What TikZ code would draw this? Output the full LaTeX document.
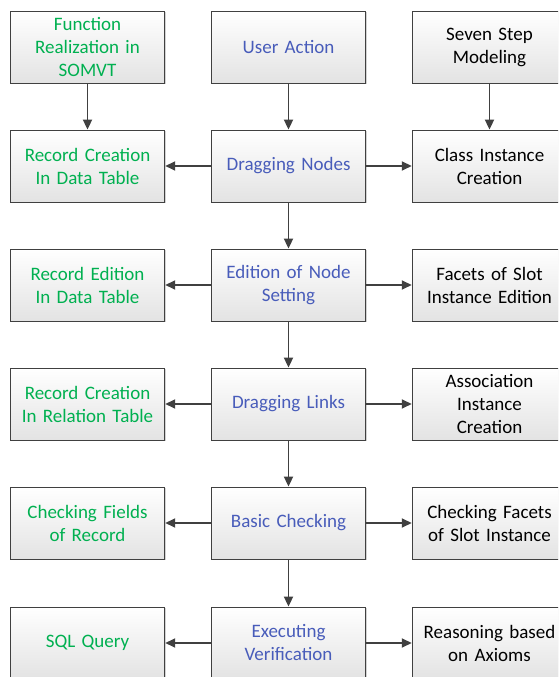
\documentclass[tikz,border=0pt]{standalone}
\usepackage{fontspec}
\setmainfont{Carlito}
\usetikzlibrary{shadows,arrows.meta}
\definecolor{fgreen}{RGB}{0,176,80}
\definecolor{fblue}{RGB}{72,92,186}
\definecolor{edge}{RGB}{64,64,64}
\tikzset{
  box/.style={draw=edge, line width=0.8pt, minimum width=151pt, minimum height=72pt,
    text width=148pt, align=center, top color=white, bottom color=gray!22,
    font=\fontsize{19}{23}\selectfont,
    drop shadow={shadow xshift=1.5pt, shadow yshift=-1.5pt, opacity=0.35, fill=gray}},
  gbox/.style={box, text=fgreen},
  bbox/.style={box, text=fblue},
  kbox/.style={box, text=black},
  flow/.style={draw=edge, line width=1.8pt, -{Triangle[length=10pt,width=9pt]}}
}
\begin{document}
\begin{tikzpicture}[x=1pt,y=1pt]
\useasboundingbox (0,0) rectangle (558,677);
\clip (0,0) rectangle (558,677);
% columns: left 87.5, middle 288.5, right 489.5; rows every ~119pt
\node[gbox] (f1) at (87.5,630) {Function\\Realization in\\SOMVT};
\node[bbox] (m1) at (288.5,630) {User Action};
\node[kbox] (r1) at (489.5,630) {Seven Step\\Modeling};

\node[gbox] (f2) at (87.5,511) {Record Creation\\In Data Table};
\node[bbox] (m2) at (288.5,511) {Dragging Nodes};
\node[kbox] (r2) at (489.5,511) {Class Instance\\Creation};

\node[gbox] (f3) at (87.5,392) {Record Edition\\In Data Table};
\node[bbox] (m3) at (288.5,392) {Edition of Node\\Setting};
\node[kbox] (r3) at (489.5,392) {Facets of Slot\\Instance Edition};

\node[gbox] (f4) at (87.5,273) {Record Creation\\In Relation Table};
\node[bbox] (m4) at (288.5,273) {Dragging Links};
\node[kbox] (r4) at (489.5,273) {Association\\Instance\\Creation};

\node[gbox] (f5) at (87.5,154) {Checking Fields\\of Record};
\node[bbox] (m5) at (288.5,154) {Basic Checking};
\node[kbox] (r5) at (489.5,154) {Checking Facets\\of Slot Instance};

\node[gbox] (f6) at (87.5,34) {SQL Query};
\node[bbox] (m6) at (288.5,34) {Executing\\Verification};
\node[kbox] (r6) at (489.5,34) {Reasoning based\\on Axioms};

% vertical flow
\draw[flow] (f1) -- (f2);
\draw[flow] (r1) -- (r2);
\draw[flow] (m1) -- (m2);
\draw[flow] (m2) -- (m3);
\draw[flow] (m3) -- (m4);
\draw[flow] (m4) -- (m5);
\draw[flow] (m5) -- (m6);
% horizontal flow
\foreach \i in {2,...,6} {
  \draw[flow] (m\i) -- (f\i);
  \draw[flow] (m\i) -- (r\i);
}
\end{tikzpicture}
\end{document}
